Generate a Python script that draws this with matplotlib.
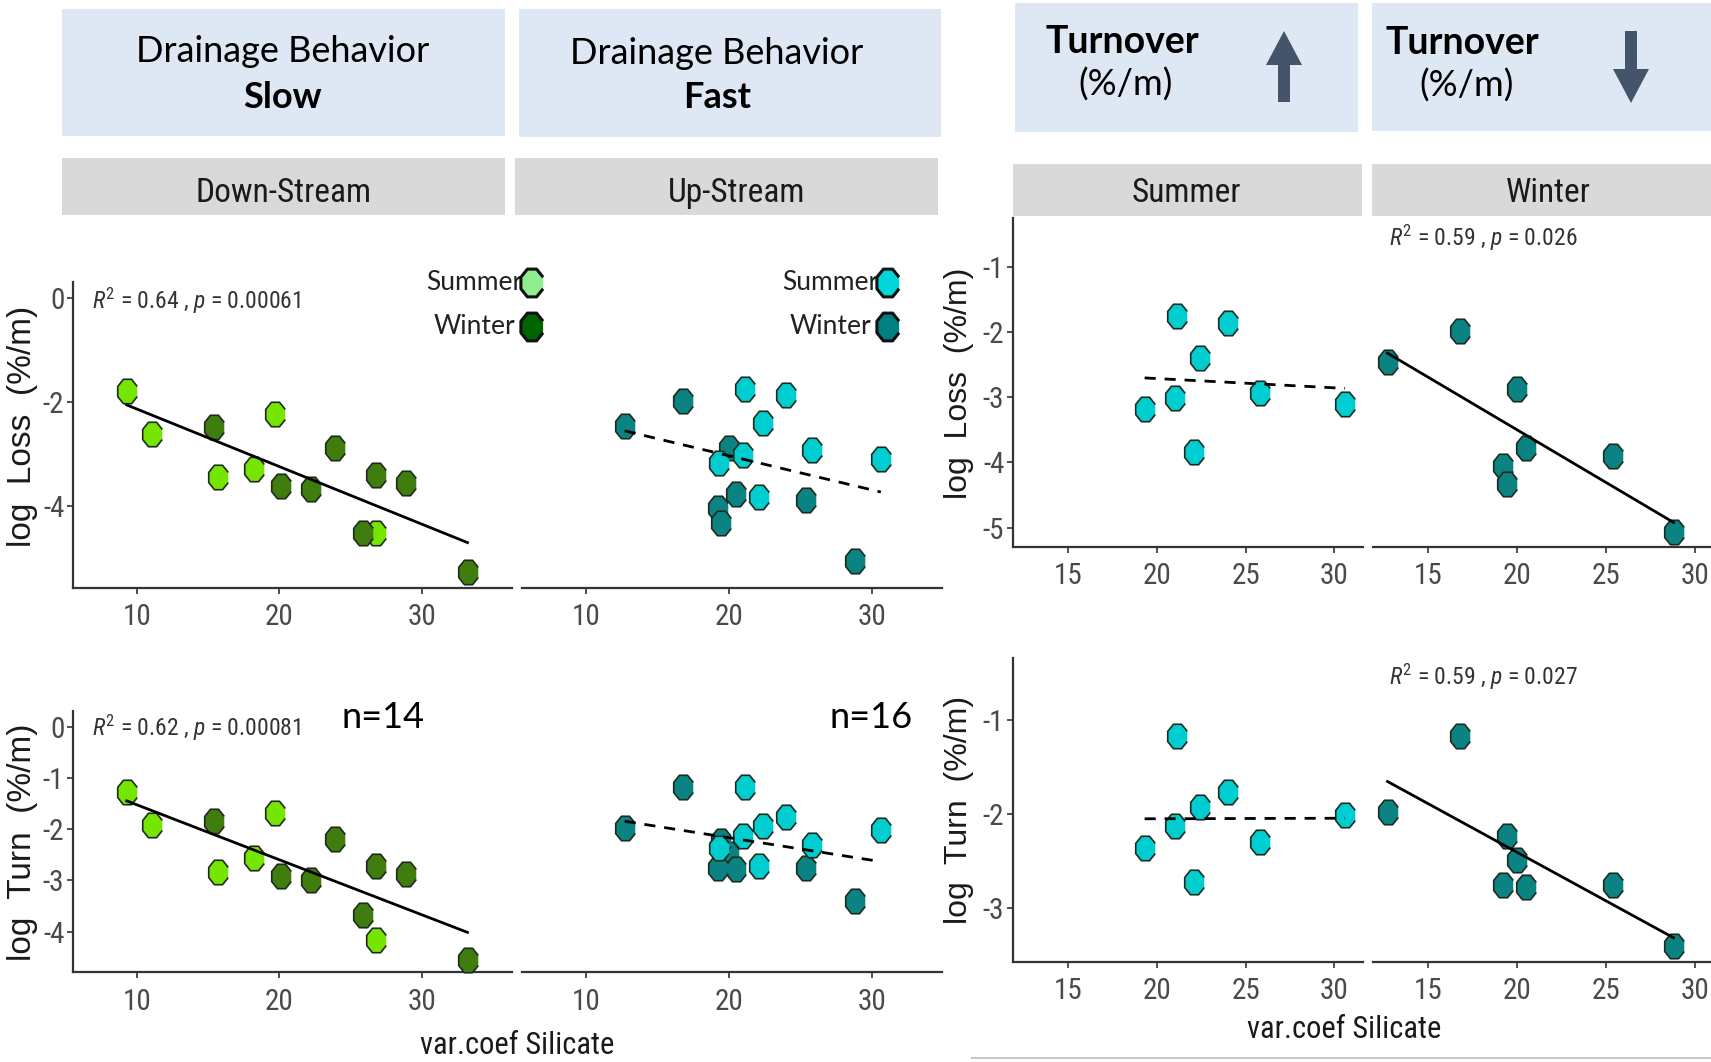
import numpy as np
import matplotlib
matplotlib.use('Agg')
import matplotlib.pyplot as plt
from matplotlib import font_manager as fm
from matplotlib.patches import Rectangle, FancyArrow

# var.coef Silicate per site and log rates (%/m), split by reach and season
ds_sum_x = [9.3, 11.1, 15.7, 18.2, 19.7, 26.8]
ds_sum_loss = [-1.79, -2.62, -3.44, -3.29, -2.23, -4.53]
ds_sum_turn = [-1.27, -1.92, -2.83, -2.57, -1.69, -4.16]
ds_win_x = [15.4, 20.1, 22.2, 23.9, 25.9, 26.8, 28.9, 33.2]
ds_win_loss = [-2.48, -3.63, -3.68, -2.89, -4.53, -3.41, -3.56, -5.29]
ds_win_turn = [-1.84, -2.91, -3.00, -2.19, -3.67, -2.72, -2.87, -4.55]

us_sum_x = [21.1, 24.0, 22.4, 25.8, 30.6, 21.0, 19.3, 22.1]
us_sum_loss = [-1.75, -1.87, -2.40, -2.93, -3.10, -3.02, -3.18, -3.84]
us_sum_turn = [-1.17, -1.77, -1.93, -2.30, -2.01, -2.13, -2.36, -2.72]
us_win_x = [12.7, 16.8, 20.0, 20.5, 19.2, 19.4, 25.4, 28.8]
us_win_loss = [-2.46, -1.99, -2.88, -3.78, -4.05, -4.33, -3.90, -5.07]
us_win_turn = [-1.98, -1.17, -2.49, -2.78, -2.75, -2.23, -2.75, -3.40]

stats_ds = ["0.64 , $p$ = 0.00061", "0.62 , $p$ = 0.00081"]
stats_win = ["0.59 , $p$ = 0.026", "0.59 , $p$ = 0.027"]

installed = {f.name for f in fm.fontManager.ttflist}


def pick(*names):
    for n in names:
        if n in installed:
            return n
    return 'DejaVu Sans'


NARROW = pick('Liberation Sans Narrow', 'Roboto Condensed', 'Liberation Sans')
SANS = pick('Liberation Sans', 'DejaVu Sans')
HEAD = pick('Lato', 'Open Sans', 'Noto Sans')

plt.rcParams['axes.unicode_minus'] = False
plt.rcParams['mathtext.fontset'] = 'custom'
plt.rcParams['mathtext.rm'] = NARROW
plt.rcParams['mathtext.it'] = NARROW + ':italic'

G_SUM, G_WIN = '#76e600', '#3f7d0e'
C_SUM, C_WIN = '#00cdd0', '#0b8383'
BOX = '#dde8f4'
STRIP = '#d9d9d9'
ARROW = '#44546a'

# slightly tall octagon used for every point
ang = np.deg2rad(22.5 + 45 * np.arange(8))
OCT = np.column_stack([0.8 * np.cos(ang), np.sin(ang)])

W, H = 1711, 1062
fig = plt.figure(figsize=(W / 100, H / 100), dpi=100)
bg = fig.add_axes([0, 0, 1, 1])
bg.set_xlim(0, W)
bg.set_ylim(H, 0)
bg.axis('off')


def px_axes(x0, x1, y0, y1):
    ax = fig.add_axes([x0 / W, 1 - y1 / H, (x1 - x0) / W, (y1 - y0) / H])
    ax.patch.set_alpha(0)
    return ax


def style(ax, xlim, ylim, xticks, yticks):
    ax.set_xlim(xlim)
    ax.set_ylim(ylim)
    ax.spines['top'].set_visible(False)
    ax.spines['right'].set_visible(False)
    ax.spines['left'].set_visible(bool(yticks))
    for s in ('left', 'bottom'):
        ax.spines[s].set_color('#333333')
        ax.spines[s].set_linewidth(1.6)
    ax.set_xticks(xticks)
    ax.set_yticks(yticks)
    ax.tick_params(length=4.5, width=1.2, color='#333333', labelsize=21,
                   labelcolor='#4a4a4a')
    ax.tick_params(axis='x', pad=6.5)
    ax.tick_params(axis='y', pad=1.5)
    for lab in ax.get_xticklabels() + ax.get_yticklabels():
        lab.set_family(NARROW)


def points(ax, x, y, color):
    ax.scatter(x, y, s=310, marker=OCT, facecolor=color, edgecolor='#1e2a1e',
               linewidths=1.2, zorder=3, clip_on=False)


def fit(ax, x, y, dashed):
    x = np.asarray(x, float)
    y = np.asarray(y, float)
    k, b = np.polyfit(x, y, 1)
    xs = np.array([x.min(), x.max()])
    ax.plot(xs, k * xs + b, color='black', lw=2.0,
            ls=(0, (4, 3.2)) if dashed else '-', zorder=4)


# ---- header boxes and strips
for x0, x1, y0, y1 in [(62, 505, 9, 136), (519, 941, 9, 137),
                       (1015, 1358, 3, 132), (1372, 1711, 3, 131)]:
    bg.add_patch(Rectangle((x0, y0), x1 - x0, y1 - y0, color=BOX, lw=0))
for x0, x1, y0, y1 in [(62, 505, 158, 215), (515, 938, 158, 215),
                       (1013, 1362, 164, 216), (1372, 1711, 164, 216)]:
    bg.add_patch(Rectangle((x0, y0), x1 - x0, y1 - y0, color=STRIP, lw=0))

bg.text(283, 52, 'Drainage Behavior', family=HEAD, fontsize=26, ha='center', va='center')
bg.text(283, 97, 'Slow', family=HEAD, fontsize=26, weight='bold', ha='center', va='center')
bg.text(717, 53, 'Drainage Behavior', family=HEAD, fontsize=26, ha='center', va='center')
bg.text(717, 98, 'Fast', family=HEAD, fontsize=26, weight='bold', ha='center', va='center')
bg.text(1122, 42, 'Turnover', family=HEAD, fontsize=27, weight='bold', ha='center', va='center')
bg.text(1126, 85, '(%/m)', family=HEAD, fontsize=26, ha='center', va='center')
bg.text(1462, 43, 'Turnover', family=HEAD, fontsize=27, weight='bold', ha='center', va='center')
bg.text(1467, 86, '(%/m)', family=HEAD, fontsize=26, ha='center', va='center')
bg.add_patch(FancyArrow(1284, 102, 0, -71, width=12, head_width=36, head_length=34,
                        length_includes_head=True, color=ARROW, lw=0))
bg.add_patch(FancyArrow(1631, 31, 0, 72, width=12, head_width=36, head_length=34,
                        length_includes_head=True, color=ARROW, lw=0))

for x, lab in [(284, 'Down-Stream'), (737, 'Up-Stream'), (1186, 'Summer'), (1548, 'Winter')]:
    bg.text(x, 193, lab, family=NARROW, fontsize=24, color='#1a1a1a', ha='center', va='center')

# ---- left block: Down-Stream / Up-Stream
ax = px_axes(72.7, 511.7, 281.7, 588)
style(ax, (5.51, 36.3), (-5.59, 0.32), [10, 20, 30], [0, -2, -4])
points(ax, ds_sum_x, ds_sum_loss, G_SUM)
points(ax, ds_win_x, ds_win_loss, G_WIN)
fit(ax, ds_sum_x + ds_win_x, ds_sum_loss + ds_win_loss, False)

ax = px_axes(521.7, 941.7, 281.7, 588)
style(ax, (5.51, 34.85), (-5.59, 0.32), [10, 20, 30], [])
points(ax, us_win_x, us_win_loss, C_WIN)
points(ax, us_sum_x, us_sum_loss, C_SUM)
fit(ax, us_sum_x + us_win_x, us_sum_loss + us_win_loss, True)

ax = px_axes(72.7, 511.7, 710.7, 972.3)
style(ax, (5.51, 36.3), (-4.79, 0.31), [10, 20, 30], [0, -1, -2, -3, -4])
points(ax, ds_sum_x, ds_sum_turn, G_SUM)
points(ax, ds_win_x, ds_win_turn, G_WIN)
fit(ax, ds_sum_x + ds_win_x, ds_sum_turn + ds_win_turn, False)

ax = px_axes(521.7, 941.7, 710.7, 972.3)
style(ax, (5.51, 34.85), (-4.79, 0.31), [10, 20, 30], [])
points(ax, us_win_x, us_win_turn, C_WIN)
points(ax, us_sum_x, us_sum_turn, C_SUM)
fit(ax, us_sum_x + us_win_x, us_sum_turn + us_win_turn, True)

# ---- right block: Up-Stream split by season
ax = px_axes(1012.7, 1362.7, 218.3, 546.7)
style(ax, (11.86, 31.6), (-5.29, -0.26), [15, 20, 25, 30], [-1, -2, -3, -4, -5])
points(ax, us_sum_x, us_sum_loss, C_SUM)
fit(ax, us_sum_x, us_sum_loss, True)

ax = px_axes(1373.3, 1723.3, 218.3, 546.7)
style(ax, (11.9, 31.6), (-5.29, -0.26), [15, 20, 25, 30], [])
points(ax, us_win_x, us_win_loss, C_WIN)
fit(ax, us_win_x, us_win_loss, False)

ax = px_axes(1012.7, 1362.7, 658.3, 961.7)
style(ax, (11.86, 31.6), (-3.57, -0.345), [15, 20, 25, 30], [-1, -2, -3])
points(ax, us_sum_x, us_sum_turn, C_SUM)
fit(ax, us_sum_x, us_sum_turn, True)

ax = px_axes(1373.3, 1723.3, 658.3, 961.7)
style(ax, (11.9, 31.6), (-3.57, -0.345), [15, 20, 25, 30], [])
points(ax, us_win_x, us_win_turn, C_WIN)
fit(ax, us_win_x, us_win_turn, False)

# ---- axis titles, stats, legends
for x, y, size, lab in [(23, 426, 24, 'log  Loss  (%/m)'), (23, 842, 24, 'log  Turn  (%/m)'),
                        (959, 383, 23, 'log  Loss  (%/m)'), (959, 810, 23, 'log  Turn  (%/m)')]:
    bg.text(x, y, lab, family=SANS, fontsize=size, rotation=90,
            color='#1a1a1a', ha='center', va='center')
bg.text(517, 1045, 'var.coef Silicate', family=NARROW, fontsize=22, color='#1a1a1a',
        ha='center', va='center')
bg.text(1344, 1029, 'var.coef Silicate', family=NARROW, fontsize=22, color='#1a1a1a',
        ha='center', va='center')

for (x, y), s in zip([(92, 301), (92, 728)], stats_ds):
    bg.text(x, y, '$R^2$ = ' + s, family=NARROW, fontsize=17, color='#333333', va='center')
for (x, y), s in zip([(1389, 238), (1389, 677)], stats_win):
    bg.text(x, y, '$R^2$ = ' + s, family=NARROW, fontsize=17, color='#333333', va='center')

bg.text(383, 718, 'n=14', family=HEAD, fontsize=26, ha='center', va='center')
bg.text(871, 718, 'n=16', family=HEAD, fontsize=26, ha='center', va='center')

for tx, kx, c_s, c_w in [(474, 532, '#90ee90', '#006400'), (830, 888, '#00d5d8', '#008080')]:
    bg.text(tx, 283, 'Summer', family=HEAD, fontsize=19, color='#222222', ha='center', va='center')
    bg.text(tx, 326, 'Winter', family=HEAD, fontsize=19, color='#222222', ha='center', va='center')
    bg.scatter([kx, kx], [283, 327], s=400, marker=OCT, facecolor=[c_s, c_w],
               edgecolor='#111111', linewidths=2.2, zorder=5)

bg.plot([972, W], [1058, 1058], color='#c8c8c8', lw=1.5)

fig.savefig('out.png', dpi=100)
